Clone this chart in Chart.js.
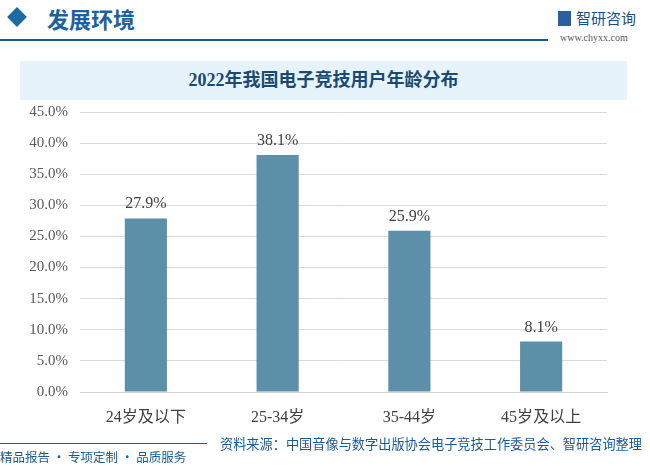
<!DOCTYPE html>
<html>
<head>
<meta charset="utf-8">
<script src="https://cdn.jsdelivr.net/npm/chart.js@4"></script>
<style>
body { margin:0; width:650px; height:466px; background:#fff; position:relative; overflow:hidden; font-family:"Noto Sans CJK SC", sans-serif; }
.diamond { position:absolute; left:10px; top:10px; width:14px; height:14px; background:#1f6aa5; transform:rotate(45deg); }
.head { position:absolute; left:47px; top:2px; font-size:22px; color:#1a62a0; font-weight:bold; }
.hline { position:absolute; left:0; top:39px; width:548px; height:2px; background:#1a5a8c; }
.logo { position:absolute; left:558px; top:7px; font-size:15px; color:#1a4f86; }
.logo b { display:inline-block; width:13px; height:15px; background:#2a5fa0; vertical-align:-2px; margin-right:5px; }
.url { position:absolute; left:560px; top:32px; font-size:10px; color:#555; font-family:"Liberation Serif", serif; }
.band { position:absolute; left:20px; top:61px; width:607px; height:39px; background:#e6f3fb; text-align:center; line-height:39px; font-size:18px; font-weight:bold; color:#1a4a72; font-family:"Liberation Serif","Noto Sans CJK SC",serif; }
.box { position:absolute; left:0; top:91px; width:622px; height:350px; }
.fline { position:absolute; left:0; top:443px; width:207px; height:1px; background:#1a5a8c; }
.fleft { position:absolute; left:0; top:448px; font-size:12.5px; line-height:18px; color:#1a5a8c; }
.fright { position:absolute; left:220px; top:434px; font-size:13.2px; line-height:20px; color:#1a5a9a; white-space:nowrap; }
</style>
</head>
<body>
<div class="diamond"></div>
<div class="head">发展环境</div>
<div class="hline"></div>
<div class="logo"><b></b>智研咨询</div>
<div class="url">www.chyxx.com</div>
<div class="band">2022年我国电子竞技用户年龄分布</div>
<div class="box"><canvas id="c"></canvas></div>
<div class="fline"></div>
<div class="fleft">精品报告 · 专项定制 · 品质服务</div>
<div class="fright">资料来源：中国音像与数字出版协会电子竞技工作委员会、智研咨询整理</div>
<script>
var categories = ['24岁及以下', '25-34岁', '35-44岁', '45岁及以上'];
var shares = [27.9, 38.1, 25.9, 8.1];

var barLabels = {
  id: 'barLabels',
  afterDatasetsDraw: function (chart) {
    var ctx = chart.ctx;
    var meta = chart.getDatasetMeta(0);
    ctx.save();
    ctx.font = '16px "Liberation Serif", serif';
    ctx.fillStyle = '#404040';
    ctx.textAlign = 'center';
    ctx.textBaseline = 'alphabetic';
    meta.data.forEach(function (bar, i) {
      ctx.fillText(shares[i].toFixed(1) + '%', bar.x, bar.y - 10);
    });
    ctx.restore();
  }
};

new Chart(document.getElementById('c'), {
  type: 'bar',
  data: {
    labels: categories,
    datasets: [{
      data: shares,
      backgroundColor: '#5b90a8',
      categoryPercentage: 1,
      barPercentage: 0.32
    }]
  },
  options: {
    responsive: true,
    maintainAspectRatio: false,
    animation: false,
    layout: { padding: { top: 5, right: 15, left: 0, bottom: 0 } },
    plugins: { legend: { display: false }, tooltip: { enabled: false } },
    scales: {
      x: {
        grid: { display: false },
        border: { color: '#d0d0d0' },
        ticks: { color: '#404040', font: { size: 16, family: '"Liberation Serif","Noto Sans CJK SC", serif' }, padding: 8 },
        afterFit: function (s) { s.height = 49; }
      },
      y: {
        min: 0, max: 45,
        grid: { color: '#d9d9d9', drawTicks: false },
        border: { display: false },
        ticks: {
          stepSize: 5, padding: 12, color: '#595959',
          font: { size: 15, family: '"Liberation Serif", serif' },
          callback: function (v) { return v.toFixed(1) + '%'; }
        },
        afterFit: function (s) { s.width = 80; }
      }
    }
  },
  plugins: [barLabels]
});
</script>
</body>
</html>
